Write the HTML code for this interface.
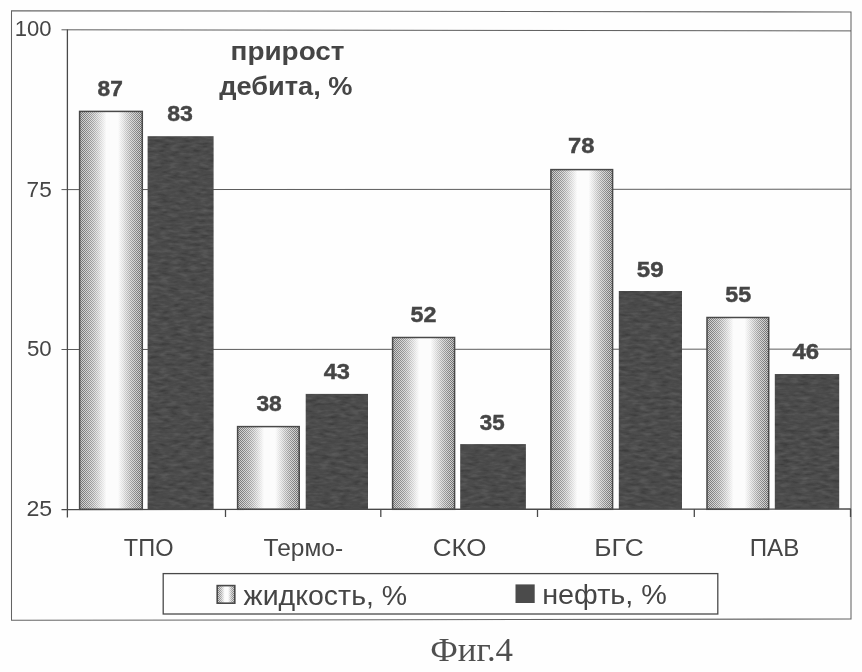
<!DOCTYPE html>
<html lang="ru"><head><meta charset="utf-8"><title>Фиг.4</title>
<style>
html,body{margin:0;padding:0;background:#fefefe;}
body{width:862px;height:672px;overflow:hidden;}
svg{display:block;}
text{font-family:"Liberation Sans",Arial,sans-serif;fill:#454545;}
.b{font-weight:bold;}
.d{font-weight:bold;stroke:#454545;stroke-width:0.45px;}
.cap{font-family:"Liberation Serif","Times New Roman",serif;fill:#505050;}
</style></head><body>
<svg width="862" height="672" viewBox="0 0 862 672">
<defs>
<linearGradient id="g" x1="0" x2="1" y1="0" y2="0">
<stop offset="0" stop-color="#cacaca"/><stop offset="0.2" stop-color="#dcdcdc"/><stop offset="0.35" stop-color="#f0f0f0"/><stop offset="0.43" stop-color="#fcfcfc"/><stop offset="0.61" stop-color="#fcfcfc"/><stop offset="0.69" stop-color="#f0f0f0"/><stop offset="0.83" stop-color="#dadada"/><stop offset="1" stop-color="#c8c8c8"/>
</linearGradient>
<linearGradient id="m" x1="0" x2="1" y1="0" y2="0">
<stop offset="0" stop-color="#fff" stop-opacity="0.72"/><stop offset="0.2" stop-color="#fff" stop-opacity="0.42"/><stop offset="0.35" stop-color="#fff" stop-opacity="0.12"/><stop offset="0.43" stop-color="#fff" stop-opacity="0"/><stop offset="0.61" stop-color="#fff" stop-opacity="0"/><stop offset="0.69" stop-color="#fff" stop-opacity="0.12"/><stop offset="0.83" stop-color="#fff" stop-opacity="0.42"/><stop offset="1" stop-color="#fff" stop-opacity="0.76"/>
</linearGradient>
<filter id="nz" x="0" y="0" width="100%" height="100%" color-interpolation-filters="sRGB">
<feTurbulence type="fractalNoise" baseFrequency="0.1 0.3" numOctaves="2" seed="7"/>
<feColorMatrix type="matrix" values="0.16 0 0 0 0.215  0.16 0 0 0 0.215  0.16 0 0 0 0.215  0 0 0 0 1"/>
<feComposite in2="SourceGraphic" operator="in"/>
</filter>
<filter id="bl" x="0" y="0" width="862" height="672" filterUnits="userSpaceOnUse"><feGaussianBlur stdDeviation="0.38"/></filter>
<pattern id="ck" width="2" height="2" patternUnits="userSpaceOnUse"><rect x="0" y="0" width="1" height="1" fill="#484848"/><rect x="1" y="1" width="1" height="1" fill="#484848"/></pattern>
</defs>
<rect x="0" y="0" width="862" height="672" fill="#fefefe"/>
<g filter="url(#bl)">
<!-- outer frame -->
<path d="M11.5 10.7 L851 12 L851 619 L11.5 620.3 Z" fill="none" stroke="#646464" stroke-width="1.05"/>
<!-- gridlines -->
<g stroke="#5c5c5c" stroke-width="1" fill="none">
<line x1="61.5" y1="29.8" x2="851" y2="30.9"/>
<line x1="61.5" y1="189.6" x2="851" y2="189.2"/>
<line x1="61.5" y1="349.5" x2="851" y2="349.1"/>
</g>

<mask id="mk0" maskUnits="userSpaceOnUse" x="79.0" y="110.8" width="63.9" height="398.5"><rect x="79.0" y="110.8" width="63.9" height="398.5" fill="url(#m)"/></mask>
<rect x="79.6" y="111.4" width="62.7" height="397.9" fill="url(#g)"/>
<rect x="79.6" y="111.4" width="62.7" height="397.9" fill="url(#ck)" mask="url(#mk0)"/>
<rect x="79.6" y="111.4" width="62.7" height="397.9" fill="none" stroke="#484848" stroke-width="1.5"/>
<mask id="mk1" maskUnits="userSpaceOnUse" x="237.0" y="426.0" width="62.8" height="83.3"><rect x="237.0" y="426.0" width="62.8" height="83.3" fill="url(#m)"/></mask>
<rect x="237.6" y="426.6" width="61.6" height="82.7" fill="url(#g)"/>
<rect x="237.6" y="426.6" width="61.6" height="82.7" fill="url(#ck)" mask="url(#mk1)"/>
<rect x="237.6" y="426.6" width="61.6" height="82.7" fill="none" stroke="#484848" stroke-width="1.5"/>
<mask id="mk2" maskUnits="userSpaceOnUse" x="392.0" y="336.9" width="63.2" height="172.4"><rect x="392.0" y="336.9" width="63.2" height="172.4" fill="url(#m)"/></mask>
<rect x="392.6" y="337.5" width="62.0" height="171.8" fill="url(#g)"/>
<rect x="392.6" y="337.5" width="62.0" height="171.8" fill="url(#ck)" mask="url(#mk2)"/>
<rect x="392.6" y="337.5" width="62.0" height="171.8" fill="none" stroke="#484848" stroke-width="1.5"/>
<mask id="mk3" maskUnits="userSpaceOnUse" x="550.3" y="169.0" width="62.9" height="340.3"><rect x="550.3" y="169.0" width="62.9" height="340.3" fill="url(#m)"/></mask>
<rect x="550.9" y="169.6" width="61.7" height="339.7" fill="url(#g)"/>
<rect x="550.9" y="169.6" width="61.7" height="339.7" fill="url(#ck)" mask="url(#mk3)"/>
<rect x="550.9" y="169.6" width="61.7" height="339.7" fill="none" stroke="#484848" stroke-width="1.5"/>
<mask id="mk4" maskUnits="userSpaceOnUse" x="706.4" y="316.9" width="62.9" height="192.4"><rect x="706.4" y="316.9" width="62.9" height="192.4" fill="url(#m)"/></mask>
<rect x="707.0" y="317.5" width="61.7" height="191.8" fill="url(#g)"/>
<rect x="707.0" y="317.5" width="61.7" height="191.8" fill="url(#ck)" mask="url(#mk4)"/>
<rect x="707.0" y="317.5" width="61.7" height="191.8" fill="none" stroke="#484848" stroke-width="1.5"/>
<rect x="147.6" y="136.2" width="66.0" height="373.1" fill="#4b4b4b" filter="url(#nz)"/>
<rect x="305.7" y="393.9" width="62.3" height="115.4" fill="#4b4b4b" filter="url(#nz)"/>
<rect x="460.2" y="444.1" width="65.7" height="65.2" fill="#4b4b4b" filter="url(#nz)"/>
<rect x="618.8" y="291.0" width="63.2" height="218.3" fill="#4b4b4b" filter="url(#nz)"/>
<rect x="774.8" y="374.0" width="64.4" height="135.3" fill="#4b4b4b" filter="url(#nz)"/>
<!-- axes -->
<g stroke="#4a4a4a" stroke-width="1.3" fill="none">
<line x1="67.4" y1="29.5" x2="67.4" y2="517.5"/>
<line x1="61.5" y1="509.6" x2="851" y2="509"/>
<line x1="225.5" y1="509" x2="225.5" y2="517"/>
<line x1="380.8" y1="509" x2="380.8" y2="517"/>
<line x1="537.5" y1="509" x2="537.5" y2="517"/>
<line x1="694.3" y1="509" x2="694.3" y2="517"/>
<line x1="850.5" y1="509" x2="850.5" y2="517"/>
</g>

<text class="d" transform="translate(97.56,96.00) scale(1.0002,1)" font-size="22.7">87</text>
<text class="d" transform="translate(167.15,121.40) scale(1.0184,1)" font-size="22.7">83</text>
<text class="d" transform="translate(256.39,411.20) scale(1.0039,1)" font-size="22.7">38</text>
<text class="d" transform="translate(323.75,379.40) scale(1.0390,1)" font-size="22.7">43</text>
<text class="d" transform="translate(410.60,321.80) scale(1.0251,1)" font-size="22.7">52</text>
<text class="d" transform="translate(479.70,429.80) scale(0.9850,1)" font-size="22.7">35</text>
<text class="d" transform="translate(568.09,153.10) scale(1.0445,1)" font-size="22.7">78</text>
<text class="d" transform="translate(636.78,276.50) scale(1.0623,1)" font-size="22.7">59</text>
<text class="d" transform="translate(725.30,302.10) scale(1.0255,1)" font-size="22.7">55</text>
<text class="d" transform="translate(792.54,359.20) scale(1.0556,1)" font-size="22.7">46</text>
<text transform="translate(14.65,36.30) scale(0.9717,1)" font-size="22.7">100</text>
<text transform="translate(26.61,196.60) scale(0.9958,1)" font-size="22.7">75</text>
<text transform="translate(26.91,356.20) scale(0.9813,1)" font-size="22.7">50</text>
<text transform="translate(26.44,516.30) scale(1.0193,1)" font-size="22.7">25</text>
<text transform="translate(123.87,556.00) scale(0.9499,1)" font-size="24.8">ТПО</text>
<text transform="translate(263.55,555.80) scale(0.9893,1)" font-size="24.8">Термо-</text>
<text transform="translate(432.80,555.70) scale(1.0466,1)" font-size="24.8">СКО</text>
<text transform="translate(594.33,555.70) scale(1.0607,1)" font-size="24.8">БГС</text>
<text transform="translate(749.67,555.80) scale(0.9745,1)" font-size="24.8">ПАВ</text>
<text class="b" transform="translate(230.55,60.10) scale(1.0735,1)" font-size="26">прирост</text>
<text class="b" transform="translate(219.20,95.10) scale(1.0462,1)" font-size="26">дебита, %</text>
<rect x="163.2" y="573.6" width="554.6" height="40.4" fill="#fefefe" stroke="#4a4a4a" stroke-width="1.3"/>
<mask id="mkl" maskUnits="userSpaceOnUse" x="216.6" y="585" width="18.8" height="18.8"><rect x="216.6" y="585" width="18.8" height="18.8" fill="url(#m)"/></mask>
<rect x="217.2" y="585.6" width="17.6" height="17.6" fill="url(#g)"/>
<rect x="217.2" y="585.6" width="17.6" height="17.6" fill="url(#ck)" mask="url(#mkl)"/>
<rect x="217.2" y="585.6" width="17.6" height="17.6" fill="none" stroke="#484848" stroke-width="1.6"/>
<rect x="515.5" y="584.4" width="19.2" height="18.6" fill="#4b4b4b"/>
<text transform="translate(243.56,604.70) scale(1.0642,1)" font-size="26.8">жидкость, %</text>
<text transform="translate(542.18,603.70) scale(1.0751,1)" font-size="26.8">нефть, %</text>
<text class="cap" transform="translate(430.20,660.80) scale(1.0433,1)" font-size="33.5">Фиг.4</text>
</g>
</svg>
</body></html>
